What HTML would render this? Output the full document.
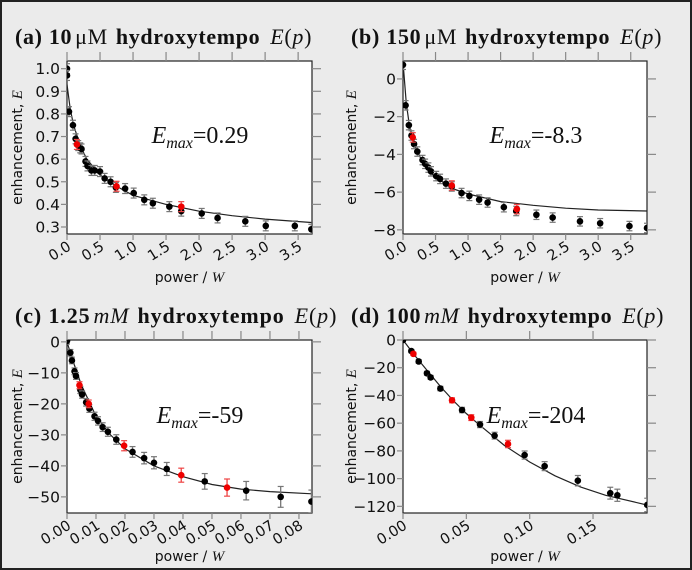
<!DOCTYPE html>
<html><head><meta charset="utf-8">
<style>
html,body{margin:0;padding:0;background:#ebebeb;}
#wrap{position:relative;width:692px;height:570px;box-sizing:border-box;border:2px solid #222;background:#ebebeb;overflow:hidden;}
svg{position:absolute;left:0;top:0;}
</style></head>
<body>
<div id="wrap">
<svg id="fig" width="692" height="570" viewBox="0 0 692 570"></svg>
</div>
<script>
// Panel (a) 10 uM
const aPx=[0,0,0.03,0.09,0.13,0.17,0.2,0.22,0.28,0.31,0.37,0.42,0.5,0.57,0.66,0.74,0.88,1.01,1.17,1.3,1.55,1.73,2.04,2.28,2.7,3.01,3.45,3.7];
const aPy=[1.0,0.97,0.81,0.75,0.69,0.66,0.65,0.645,0.59,0.57,0.55,0.55,0.545,0.515,0.5,0.475,0.47,0.45,0.42,0.405,0.39,0.37,0.36,0.34,0.325,0.305,0.305,0.29];
const aRx=[0.15,0.75,1.73];
const aRy=[0.665,0.48,0.39];
const aCx=[0,0.05,0.1,0.2,0.3,0.5,0.75,1,1.5,2,2.5,3,3.7];
const aCy=[0.93,0.82,0.75,0.66,0.6,0.53,0.48,0.44,0.40,0.37,0.35,0.335,0.32];
const aXt=[0,0.5,1,1.5,2,2.5,3,3.5];
const aXl=["0.0","0.5","1.0","1.5","2.0","2.5","3.0","3.5"];
const aYt=[0.3,0.4,0.5,0.6,0.7,0.8,0.9,1.0];
const aYl=["0.3","0.4","0.5","0.6","0.7","0.8","0.9","1.0"];
// Panel (b) 150 uM
const bPx=[0,0.04,0.09,0.13,0.17,0.22,0.3,0.34,0.39,0.43,0.51,0.57,0.66,0.75,0.9,1.02,1.17,1.3,1.55,1.74,2.05,2.3,2.72,3.03,3.48,3.75];
const bPy=[0.75,-1.4,-2.45,-3.0,-3.45,-3.85,-4.3,-4.5,-4.7,-4.9,-5.15,-5.3,-5.55,-5.7,-6.05,-6.2,-6.4,-6.55,-6.8,-7.0,-7.2,-7.35,-7.55,-7.65,-7.8,-7.9];
const bRx=[0.15,0.75,1.75];
const bRy=[-3.1,-5.65,-6.9];
const bCx=[0,0.05,0.1,0.15,0.2,0.3,0.4,0.5,0.75,1,1.5,2,2.5,3,3.75];
const bCy=[0.9,-1.3,-2.5,-3.2,-3.7,-4.4,-4.9,-5.2,-5.8,-6.1,-6.5,-6.7,-6.85,-6.95,-7.0];
const bXt=[0,0.5,1,1.5,2,2.5,3,3.5];
const bXl=["0.0","0.5","1.0","1.5","2.0","2.5","3.0","3.5"];
const bYt=[0,-2,-4,-6,-8];
const bYl=["0","\u22122","\u22124","\u22126","\u22128"];
// Panel (c) 1.25 mM
const cPx=[0,0.00115,0.0017,0.0026,0.0031,0.0046,0.0052,0.0066,0.0077,0.0095,0.0107,0.0123,0.0141,0.017,0.0226,0.0266,0.03,0.0344,0.0475,0.0618,0.0737,0.0843];
const cPy=[0.3,-3.5,-6,-9.5,-11,-15.5,-17,-19.5,-21.5,-24,-25.5,-27.5,-29,-31.5,-35.5,-37.5,-39,-41,-45,-48,-50,-51.5];
const cRx=[0.0043,0.0075,0.0197,0.0394,0.0552];
const cRy=[-14,-20,-33.5,-43,-47];
const cCx=[0,0.002,0.005,0.01,0.015,0.02,0.03,0.04,0.05,0.06,0.07,0.0845];
const cCy=[0,-6,-14,-24,-30,-34.5,-40,-43.5,-46,-47.5,-48.3,-49];
const cXt=[0,0.01,0.02,0.03,0.04,0.05,0.06,0.07,0.08];
const cXl=["0.00","0.01","0.02","0.03","0.04","0.05","0.06","0.07","0.08"];
const cYt=[0,-10,-20,-30,-40,-50];
const cYl=["0","\u221210","\u221220","\u221230","\u221240","\u221250"];
// Panel (d) 100 mM
const dPx=[0,0.0066,0.0124,0.0189,0.0218,0.0295,0.0466,0.0608,0.0723,0.096,0.1118,0.138,0.1636,0.1692,0.1928];
const dPy=[0,-8,-15.5,-24,-27,-35,-50.5,-61,-69,-83,-91,-101.5,-110.5,-112,-119];
const dRx=[0.0082,0.0387,0.0539,0.0829];
const dRy=[-10,-43.5,-56,-75];
const dCx=[0,0.01,0.02,0.03,0.04,0.05,0.06,0.08,0.1,0.12,0.14,0.16,0.1926];
const dCy=[0,-12,-23,-34,-44,-53,-61,-76,-88,-98,-106,-112,-119];
const dXt=[0,0.05,0.1,0.15];
const dXl=["0.00","0.05","0.10","0.15"];
const dYt=[0,-20,-40,-60,-80,-100,-120];
const dYl=["0","\u221220","\u221240","\u221260","\u221280","\u2212100","\u2212120"];

const NS="http://www.w3.org/2000/svg";
const svg=document.getElementById('fig');
function mk(tag,attrs,parent){const e=document.createElementNS(NS,tag);for(const k in attrs)e.setAttribute(k,attrs[k]);(parent||svg).appendChild(e);return e;}

function panel(o){
  const g=mk('g',{});
  
  
  const sx=v=>o.x0+(v-o.xmin)/(o.xmax-o.xmin)*(o.x1-o.x0);
  const sy=v=>o.y1-(v-o.ymin)/(o.ymax-o.ymin)*(o.y1-o.y0);
  const t=mk('text',{x:o.tx,y:o.ty,'font-family':'"Liberation Serif",serif','font-size':'22','fill':'#111','letter-spacing':'0.6',textLength:o.tw,lengthAdjust:'spacing'},g);
  
  
  t.innerHTML='<tspan font-weight="bold">('+o.id+') '+o.conc+'</tspan><tspan dx="3">'+o.unit+'</tspan><tspan font-weight="bold" dx="8">hydroxytempo</tspan><tspan font-style="italic" dx="10">E</tspan><tspan>(</tspan><tspan font-style="italic">p</tspan><tspan>)</tspan>';
  const r=mk('rect',{x:o.x0,y:o.y0,width:o.x1-o.x0,height:o.y1-o.y0,fill:'#fff',stroke:'#222','stroke-width':'1.2'},g);
  
  
  o.xt.forEach((v,i)=>{
    const X=sx(v);
    mk('line',{x1:X,x2:X,y1:o.y1,y2:o.y1+6,stroke:'#888','stroke-width':'1.2'},g);
    mk('line',{x1:X,x2:X,y1:o.y0-9,y2:o.y0,stroke:'#888','stroke-width':'1.2'},g);
    const tl=mk('text',{x:X+5,y:o.y1+15,'font-family':'"DejaVu Sans","Liberation Sans",sans-serif','font-size':'14.5','fill':'#111','text-anchor':'end',transform:'rotate(-32 '+(X+5)+' '+(o.y1+15)+')'},g);
    
    
    tl.textContent=o.xl[i];
  });
  o.yt.forEach((v,i)=>{
    const Y=sy(v);
    mk('line',{x1:o.x0-6,x2:o.x0,y1:Y,y2:Y,stroke:'#888','stroke-width':'1.2'},g);
    mk('line',{x1:o.x1,x2:o.x1+9,y1:Y,y2:Y,stroke:'#888','stroke-width':'1.2'},g);
    const tl=mk('text',{x:o.x0-7,y:Y+5.5,'font-family':'"DejaVu Sans","Liberation Sans",sans-serif','font-size':'15.5','fill':'#111','text-anchor':'end'},g);
    
    
    tl.textContent=o.yl[i];
  });
  const xt=mk('text',{x:(o.x0+o.x1)/2,y:o.y1+48,'font-family':'"DejaVu Sans","Liberation Sans",sans-serif','font-size':'14','fill':'#111','text-anchor':'middle'},g);
  
  
  xt.innerHTML='power / <tspan font-family="Liberation Serif,serif" font-style="italic" font-size="15">W</tspan>';
  const yc=(o.y0+o.y1)/2;
  const yt=mk('text',{x:o.ylx,y:yc,'font-family':'"DejaVu Sans","Liberation Sans",sans-serif','font-size':'14','fill':'#111','text-anchor':'middle',transform:'rotate(-90 '+o.ylx+' '+yc+')'},g);
  
  
  yt.innerHTML='enhancement, <tspan font-family="Liberation Serif,serif" font-style="italic" font-size="15">E</tspan>';
  const cp=mk('clipPath',{id:'cp'+o.id},g);
  mk('rect',{x:o.x0,y:o.y0,width:o.x1-o.x0,height:o.y1-o.y0},cp);
  const pg=mk('g',{'clip-path':'url(#cp'+o.id+')'},g);
  let d='';
  o.cx.forEach((v,i)=>{d+=(i?'L':'M')+sx(v).toFixed(1)+' '+sy(o.cy[i]).toFixed(1);});
  const c=mk('path',{d:d,fill:'none',stroke:'#222','stroke-width':'1.2'},pg);
  
  
  function pts(xs,ys,col,ecol,name){
    xs.forEach((v,i)=>{
      const X=sx(v),Y=sy(ys[i]);
      const e=(o.err(v))/(o.ymax-o.ymin)*(o.y1-o.y0);
      mk('line',{x1:X,x2:X,y1:Y-e,y2:Y+e,stroke:ecol,'stroke-width':'1.3'},pg);
      mk('line',{x1:X-3,x2:X+3,y1:Y-e,y2:Y-e,stroke:ecol,'stroke-width':'1.2'},pg);
      mk('line',{x1:X-3,x2:X+3,y1:Y+e,y2:Y+e,stroke:ecol,'stroke-width':'1.2'},pg);
      const p=mk('circle',{cx:X,cy:Y,r:3.3,fill:col},pg);
      
      
    });
  }
  pts(o.px,o.py,'#000','#777','data-point');
  pts(o.rx,o.ry,'#e00','#e44','repeat-point');
  const em=mk('text',{x:o.ex,y:o.ey,'font-family':'"Liberation Serif",serif','font-size':'24','fill':'#111','text-anchor':'middle'},g);
  
  
  em.innerHTML='<tspan font-style="italic">E</tspan><tspan font-style="italic" font-size="16" dy="5">max</tspan><tspan dy="-5">='+o.emax+'</tspan>';
}

panel({id:'a',conc:'10',unit:'\u03bcM',tx:13,ty:42,tw:297,x0:65,x1:310,y0:59,y1:232,xmin:0,xmax:3.71,ymin:0.269,ymax:1.034,
  xt:aXt,xl:aXl,yt:aYt,yl:aYl,px:aPx,py:aPy,rx:aRx,ry:aRy,cx:aCx,cy:aCy,ylx:20,ex:198,ey:141,emax:'0.29',err:()=>0.022});
panel({id:'b',conc:'150',unit:'\u03bcM',tx:349,ty:42,tw:311,x0:401,x1:645,y0:59,y1:232,xmin:0,xmax:3.75,ymin:-8.22,ymax:0.95,
  xt:bXt,xl:bXl,yt:bYt,yl:bYl,px:bPx,py:bPy,rx:bRx,ry:bRy,cx:bCx,cy:bCy,ylx:354,ex:534,ey:141,emax:'-8.3',err:()=>0.25});
panel({id:'c',conc:'1.25',unit:'<tspan font-style="italic">mM</tspan>',tx:13,ty:321,tw:322,x0:65,x1:310,y0:338,y1:511,xmin:0,xmax:0.0845,ymin:-55.2,ymax:0.6,
  xt:cXt,xl:cXl,yt:cYt,yl:cYl,px:cPx,py:cPy,rx:cRx,ry:cRy,cx:cCx,cy:cCy,ylx:20,ex:198,ey:421,emax:'-59',err:v=>1+v*32});
panel({id:'d',conc:'100',unit:'<tspan font-style="italic">mM</tspan>',tx:349,ty:321,tw:313,x0:401,x1:645,y0:338,y1:511,xmin:0,xmax:0.1926,ymin:-124.8,ymax:0,
  xt:dXt,xl:dXl,yt:dYt,yl:dYl,px:dPx,py:dPy,rx:dRx,ry:dRy,cx:dCx,cy:dCy,ylx:354,ex:534,ey:421,emax:'-204',err:v=>1+v*20});
</script>
</body></html>
